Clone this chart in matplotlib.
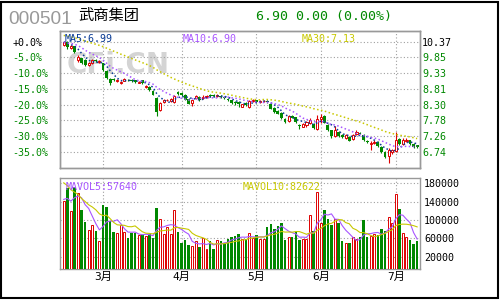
import numpy as np
import pandas as pd
import matplotlib
matplotlib.use('Agg')
import matplotlib.pyplot as plt
from matplotlib.patches import Rectangle

CODE = '000501'
NAME = '武商集团'
QUOTE = '6.90 0.00 (0.00%)'

# daily OHLC
opens = [10.25, 10.37, 10.17, 10.22, 9.75, 9.82, 9.77, 9.60, 9.67, 9.76,
         9.70, 9.66, 9.40, 9.15, 9.13, 9.08, 9.00, 9.08, 9.12, 9.10,
         9.09, 9.02, 9.10, 8.86, 8.88, 8.75, 8.52, 8.12, 8.38, 8.44,
         8.42, 8.39, 8.70, 8.69, 8.62, 8.48, 8.34, 8.50, 8.56, 8.52,
         8.55, 8.62, 8.60, 8.57, 8.58, 8.55, 8.48, 8.44, 8.38, 8.38,
         8.23, 8.34, 8.21, 8.40, 8.44, 8.38, 8.40, 8.42, 8.33, 8.18,
         8.07, 8.02, 7.82, 7.74, 7.92, 7.87, 7.62, 7.57, 7.63, 7.70,
         7.67, 7.50, 7.82, 7.92, 7.63, 7.44, 7.26, 7.40, 7.30, 7.18,
         7.24, 7.17, 7.33, 7.36, 7.30, 7.10, 7.00, 7.03, 7.06, 6.90,
         6.72, 6.60, 6.72, 6.76, 7.15, 7.00, 7.08, 7.12, 6.99, 6.95]
highs = [10.40, 10.40, 10.26, 10.24, 9.92, 9.84, 9.79, 9.70, 9.80, 9.79,
         9.76, 9.68, 9.42, 9.17, 9.16, 9.14, 9.07, 9.17, 9.14, 9.13,
         9.11, 9.08, 9.12, 8.95, 8.90, 8.77, 8.55, 8.38, 8.47, 8.48,
         8.50, 8.62, 8.74, 8.71, 8.64, 8.50, 8.45, 8.60, 8.58, 8.60,
         8.62, 8.66, 8.64, 8.65, 8.62, 8.58, 8.50, 8.46, 8.40, 8.42,
         8.33, 8.37, 8.45, 8.47, 8.46, 8.46, 8.44, 8.44, 8.35, 8.20,
         8.10, 8.04, 7.84, 7.95, 7.96, 7.89, 7.64, 7.70, 7.75, 7.85,
         7.70, 7.95, 8.00, 7.94, 7.65, 7.46, 7.58, 7.42, 7.32, 7.31,
         7.27, 7.31, 7.46, 7.40, 7.32, 7.13, 7.08, 7.12, 7.08, 6.92,
         6.75, 6.85, 6.82, 7.40, 7.18, 7.20, 7.18, 7.14, 7.02, 6.97]
lows = [10.22, 10.12, 10.12, 10.00, 9.70, 9.64, 9.56, 9.58, 9.62, 9.70,
        9.68, 9.40, 9.14, 8.95, 9.06, 9.05, 8.97, 9.06, 9.06, 9.04,
        9.02, 9.00, 8.98, 8.84, 8.74, 8.60, 7.92, 8.08, 8.36, 8.40,
        8.38, 8.36, 8.62, 8.59, 8.44, 8.30, 8.25, 8.48, 8.42, 8.48,
        8.52, 8.55, 8.55, 8.54, 8.50, 8.48, 8.40, 8.30, 8.28, 8.20,
        8.20, 8.25, 8.18, 8.38, 8.36, 8.35, 8.37, 8.36, 8.14, 8.03,
        7.98, 7.82, 7.70, 7.72, 7.84, 7.69, 7.50, 7.54, 7.56, 7.66,
        7.50, 7.45, 7.68, 7.68, 7.43, 7.20, 7.22, 7.22, 7.20, 7.15,
        7.08, 7.14, 7.30, 7.31, 7.10, 7.02, 6.80, 7.00, 6.90, 6.70,
        6.52, 6.38, 6.68, 6.72, 6.95, 6.97, 7.05, 6.96, 6.85, 6.86]
closes = [10.36, 10.18, 10.22, 10.02, 9.85, 9.66, 9.60, 9.66, 9.78, 9.73,
          9.73, 9.42, 9.17, 9.02, 9.10, 9.11, 9.04, 9.14, 9.09, 9.06,
          9.05, 9.04, 9.00, 8.90, 8.76, 8.62, 8.05, 8.36, 8.45, 8.46,
          8.48, 8.58, 8.65, 8.61, 8.46, 8.33, 8.43, 8.57, 8.45, 8.56,
          8.58, 8.58, 8.58, 8.62, 8.53, 8.52, 8.43, 8.34, 8.34, 8.30,
          8.31, 8.28, 8.41, 8.44, 8.38, 8.41, 8.42, 8.38, 8.16, 8.06,
          8.00, 7.84, 7.73, 7.92, 7.86, 7.71, 7.58, 7.64, 7.71, 7.77,
          7.52, 7.82, 7.90, 7.70, 7.45, 7.27, 7.45, 7.25, 7.24, 7.29,
          7.10, 7.29, 7.38, 7.34, 7.12, 7.05, 7.03, 7.07, 6.92, 6.72,
          6.55, 6.78, 6.78, 7.13, 6.98, 7.12, 7.14, 6.98, 6.90, 6.90]
volumes = [141400, 170500, 119600, 172000, 158100, 121800, 95600, 78200, 88400, 76000,
           54200, 132000, 128300, 97800, 73800, 70900, 89100, 73800, 60700, 72400,
           72400, 68000, 66600, 65100, 68700, 60700, 125400, 101400, 68700, 84700,
           68700, 121100, 73800, 49100, 56400, 45500, 42600, 53500, 41100, 60000,
           36000, 54200, 36800, 55700, 54200, 50600, 59300, 62900, 65100, 68700,
           57800, 57800, 70900, 61500, 66600, 59300, 57800, 85500, 90500, 79600,
           86900, 92700, 56400, 62900, 62900, 73800, 56400, 57800, 59300, 110900,
           76000, 161000, 94200, 121800, 101400, 88400, 102900, 92700, 54200, 50600,
           50600, 62900, 59300, 63700, 100000, 63700, 65100, 68700, 66600, 81100,
           76000, 106500, 94200, 156000, 124700, 70900, 62900, 56400, 48400, 54200]

# sessions before the window, only used to start the moving averages
prior_closes = [10.92, 10.85, 10.88, 10.80, 10.78, 10.84, 10.86, 10.80, 10.76, 10.82,
                10.70, 10.62, 10.58, 10.55, 10.60, 10.52, 10.48, 10.55, 10.50, 10.45,
                10.40, 10.35, 10.28, 10.30, 10.36, 10.42, 10.38, 10.33, 10.30]
prior_volumes = [230000, 210000, 225000, 205000, 215000, 160000, 150000, 135000, 138600]

month_labels = ['3月', '4月', '5月', '6月', '7月']
month_starts = [11, 33, 54, 72, 93]  # first session of each month

base_price = 10.37
pct_steps = [0, -5, -10, -15, -20, -25, -30, -35]
vol_ticks = [20000, 60000, 100000, 140000, 180000]

ma_labels = ['MA5:6.99', 'MA10:6.90', 'MA30:7.13']
mavol_labels = ['MAVOL5:57640', 'MAVOL10:82622']

RED = '#dd0000'
GREEN = '#008800'
GRID = '#a0a0a0'
MA_COLORS = ['#0a3c96', '#a855ff', '#c8c800']

plt.rcParams['font.family'] = ['DejaVu Sans Mono', 'Noto Sans CJK SC']


def moving(prior, vals, n):
    s = pd.Series(list(prior[len(prior) - (n - 1):]) + list(vals))
    return s.rolling(n).mean().to_numpy()[n - 1:]


o = np.array(opens)
h = np.array(highs)
l = np.array(lows)
c = np.array(closes)
v = np.array(volumes, dtype=float)
x = np.arange(len(c))
up = c > o
col = np.where(up, RED, GREEN)

fig = plt.figure(figsize=(5, 3), dpi=100)
fig.patch.set_facecolor('white')

ax1 = fig.add_axes([0.12, 0.44, 0.72, 0.4567])
ax2 = fig.add_axes([0.12, 0.1033, 0.72, 0.3033])

xlim = (-1.04, 99.8)

# ---- price panel
ax1.text(0.161, 0.752, 'CFi.CN', transform=ax1.transAxes, fontsize=20,
         fontweight='bold', family='DejaVu Sans', color='#d4d4d4',
         ha='center', va='center', zorder=0.5)

ax1.vlines(x, l, h, colors=col, lw=0.8, zorder=3)
body_lo = np.minimum(o, c)
body_h = np.maximum(np.abs(c - o), 0.012)
# red = hollow, green = solid
ax1.bar(x[up], body_h[up], bottom=body_lo[up], width=0.6,
        color='white', edgecolor=RED, lw=0.7, zorder=4)
ax1.bar(x[~up], body_h[~up], bottom=body_lo[~up], width=0.8,
        color=GREEN, lw=0, zorder=4)

for n, colr in zip([5, 10, 30], MA_COLORS):
    ax1.plot(x, moving(prior_closes, c, n), color=colr, lw=1.1,
             ls=(0, (1, 1.6)), zorder=5)

price_ticks = [base_price * (1 + p / 100) for p in pct_steps]
ax1.set_xlim(*xlim)
ax1.set_ylim(6.202, 10.723)
ax1.set_yticks(price_ticks)
ax1.set_yticklabels(['+0.0%' if p == 0 else f'{p:.1f}%' for p in pct_steps])
ax1.tick_params(axis='y', length=0, pad=34.5, labelsize=7.2)
for lab, p in zip(ax1.get_yticklabels(), pct_steps):
    lab.set_ha('left')
    lab.set_color('black' if p == 0 else GREEN)
ax1.set_xticks(month_starts)
ax1.tick_params(axis='x', length=0, labelbottom=False)
ax1.grid(True, ls=(0, (1, 2)), color=GRID, lw=0.8)
ax1.set_axisbelow(True)

ax1r = ax1.twinx()
ax1r.set_ylim(ax1.get_ylim())
ax1r.set_yticks(price_ticks)
ax1r.set_yticklabels([f'{t:.2f}' for t in price_ticks])
ax1r.tick_params(axis='y', length=0, pad=1.5, labelsize=7.2)
for k, lab in enumerate(ax1r.get_yticklabels()):
    lab.set_color('black' if k == 0 else GREEN)

for a in (ax1, ax1r, ax2):
    for sp in a.spines.values():
        sp.set_color('#999999')
        sp.set_linewidth(1.0)

# ---- volume panel
vol_lo, vol_hi = -6800, 191500
ax2.bar(x[up], v[up] - vol_lo, bottom=vol_lo, width=0.55,
        color='white', edgecolor=RED, lw=0.7, zorder=3)
ax2.bar(x[~up], v[~up] - vol_lo, bottom=vol_lo, width=0.7,
        color=GREEN, lw=0, zorder=3)
ax2.plot(x, moving(prior_volumes, v, 5), color=MA_COLORS[1], lw=0.8, zorder=4)
ax2.plot(x, moving(prior_volumes, v, 10), color=MA_COLORS[2], lw=0.8, zorder=4)
ax2.set_xlim(*xlim)
ax2.set_ylim(vol_lo, vol_hi)
ax2.set_yticks(vol_ticks)
ax2.yaxis.tick_right()
ax2.tick_params(axis='y', length=0, pad=3, labelsize=7.2)
ax2.set_xticks(month_starts)
ax2.set_xticklabels(month_labels)
ax2.tick_params(axis='x', length=0, pad=2, labelsize=8)
ax2.grid(True, ls=(0, (1, 2)), color=GRID, lw=0.8)
ax2.set_axisbelow(True)

# ---- texts
fig.text(8 / 500, 1 - 24 / 300, CODE, fontsize=13.8, family='Liberation Sans',
         color='#999999', va='baseline')
fig.text(78 / 500, 1 - 15.5 / 300, NAME, fontsize=11, family='Noto Sans CJK SC',
         color='black', va='center')
fig.text(256 / 500, 1 - 20 / 300, QUOTE, fontsize=9.5, color=GREEN, va='baseline')

for txt, colr, px in zip(ma_labels, MA_COLORS, [65, 183, 302]):
    fig.text(px / 500, 1 - 41.5 / 300, txt, fontsize=7.2, color=colr,
             va='baseline', zorder=10)
for txt, colr, px in zip(mavol_labels, MA_COLORS[1:], [66, 243]):
    fig.text(px / 500, 1 - 190 / 300, txt, fontsize=7.2, color=colr,
             va='baseline', zorder=10)

fig.add_artist(Rectangle((1 / 500, 2 / 300), 497 / 500, 296 / 300,
                         transform=fig.transFigure, fill=False,
                         edgecolor='black', lw=1.5))

fig.savefig('out.png', dpi=100)
